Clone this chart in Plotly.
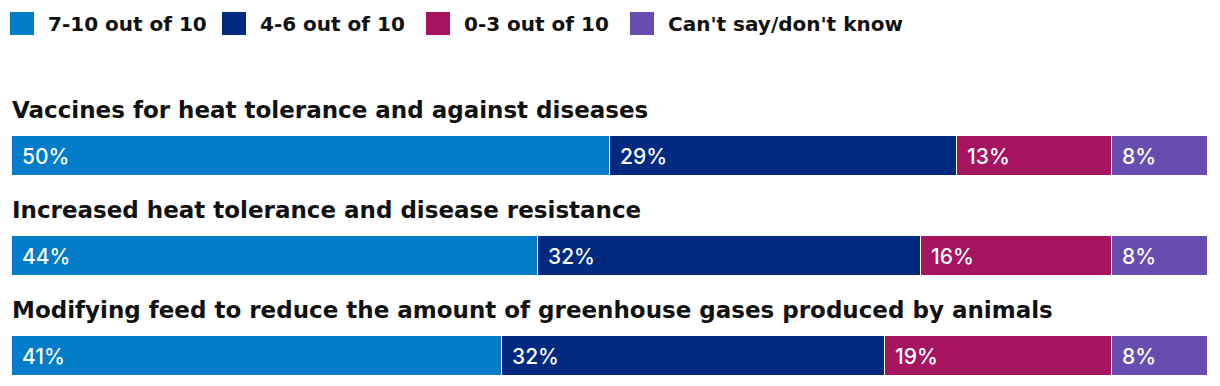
import plotly.graph_objects as go

questions = [
    "Vaccines for heat tolerance and against diseases",
    "Increased heat tolerance and disease resistance",
    "Modifying feed to reduce the amount of greenhouse gases produced by animals",
]
series_names = ["7-10 out of 10", "4-6 out of 10", "0-3 out of 10", "Can't say/don't know"]
high = [50, 44, 41]
mid = [29, 32, 32]
low = [13, 16, 19]
unsure = [8, 8, 8]
colors = ["#007CC8", "#002A7F", "#A6135F", "#684DB1"]

values = [high, mid, low, unsure]

TITLE_FONT = dict(family="DejaVu Sans", size=23, color="#111111", weight="bold")
LEGEND_FONT = dict(family="DejaVu Sans", size=20, color="#111111", weight="bold")
LABEL_FONT = dict(family="Inter", size=21, color="white", weight=500)

# figure geometry (page body adds an 8px offset)
W, H = 1204, 370
ML, MR, MT, MB = 4, 4, 78, 1
PW, PH = W - ML - MR, H - MT - MB


def px(x):
    return (x - ML) / PW


def py(y):
    return (H - MB - y) / PH


fig = go.Figure()
for name, vals, col in zip(series_names, values, colors):
    fig.add_trace(go.Bar(
        y=questions, x=vals, name=name, orientation="h",
        marker=dict(color=col, line=dict(color="white", width=1.5)),
        width=0.4, hoverinfo="skip", showlegend=False,
    ))

annotations = []
shapes = []
for i, q in enumerate(questions):
    annotations.append(dict(
        x=0, xref="x", y=q, yref="y", text=q, showarrow=False,
        xanchor="left", yanchor="middle", yshift=46, xshift=-2,
        font=TITLE_FONT,
    ))
    base = 0
    for vals in values:
        annotations.append(dict(
            x=base, xref="x", y=q, yref="y", text=f"{vals[i]}%", showarrow=False,
            xanchor="left", yanchor="middle", xshift=8,
            font=LABEL_FONT,
        ))
        base += vals[i]

# legend (square swatch + label)
legend_x = [2, 214, 418, 622]
for name, col, lx in zip(series_names, colors, legend_x):
    shapes.append(dict(type="rect", xref="paper", yref="paper",
                       x0=px(lx), x1=px(lx + 24), y0=py(4), y1=py(27),
                       fillcolor=col, line=dict(width=0)))
    annotations.append(dict(x=px(lx + 36), xref="paper", y=py(15.5), yref="paper",
                            text=name, showarrow=False, xanchor="left", yanchor="middle",
                            font=LEGEND_FONT))

fig.update_layout(
    barmode="stack",
    width=W, height=H,
    margin=dict(l=ML, r=MR, t=MT, b=MB),
    paper_bgcolor="white", plot_bgcolor="white",
    bargap=0,
    showlegend=False,
    xaxis=dict(range=[0, 100], visible=False, fixedrange=True),
    yaxis=dict(categoryorder="array", categoryarray=questions, range=[2.21, -0.7],
               visible=False, fixedrange=True),
    annotations=annotations,
    shapes=shapes,
)

fig.write_html("out.html")
